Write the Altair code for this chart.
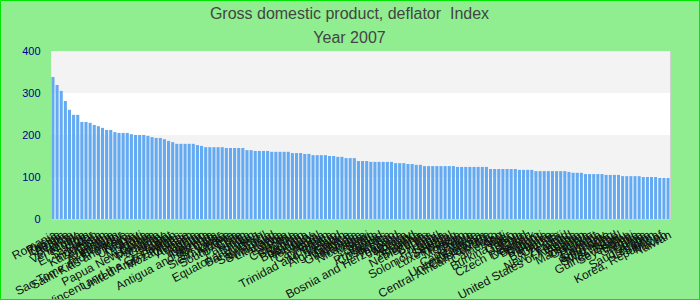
import altair as alt
import pandas as pd

countries = [
    "Romania", "Russia", "Zambia", "Ukraine", "Belarus", "Turkey", "Venezuela", "Nigeria",
    "Iran", "El Salvador", "Sudan", "Indonesia", "Kazakhstan", "Ghana", "Argentina", "Azerbaijan",
    "Ecuador", "Sao Tome and Principe", "Saint Kitts and Nevis", "Kenya", "Uruguay", "Haiti",
    "Moldova", "Serbia", "Papua New Guinea", "Mongolia", "Paraguay", "Georgia", "Egypt", "Yemen",
    "Saint Vincent and the Grenadines", "United Arab Emirates", "Mozambique", "Vietnam", "Armenia",
    "Algeria", "Lesotho", "Uganda", "Tanzania", "Antigua and Barbuda", "Qatar", "Sri Lanka",
    "Sierra Leone", "Albania", "South Africa", "Chile", "Pakistan", "India", "Bhutan",
    "Equatorial Guinea", "Bangladesh", "Brazil", "Saint Lucia", "Swaziland", "Lithuania", "Latvia",
    "Estonia", "Peru", "Colombia", "Slovakia", "Bahrain", "Botswana", "Hungary", "Honduras",
    "Nepal", "Cambodia", "Oman", "Dominica", "Trinidad and Tobago", "Iceland", "Afghanistan",
    "Greece", "Mauritius", "Guatemala", "Namibia", "Nicaragua", "Malawi", "Spain", "Croatia",
    "Ireland", "Philippines", "Costa Rica", "Mexico", "Thailand", "Bosnia and Herzegovina",
    "Jamaica", "Norway", "Poland", "Australia", "Slovenia", "Netherlands", "Cyprus", "Italy",
    "Portugal", "Malta", "Solomon Islands", "Senegal", "Luxembourg", "Tunisia", "Morocco",
    "Jordan", "Belize", "Cape Verde", "Malaysia", "United Kingdom", "Côte d'Ivoire",
    "Central African Republic", "Togo", "Cameroon", "Mali", "Niger", "Burkina Faso", "Gabon",
    "Benin", "Chad", "Czech Republic", "Denmark", "Belgium", "Djibouti", "Bulgaria", "France",
    "Barbados", "Canada", "Fiji", "New Zealand", "Finland", "United States of America", "Austria",
    "Sweden", "Macedonia", "Grenada", "Kuwait", "Panama", "Germany", "Singapore", "Hong Kong",
    "Switzerland", "Israel", "Guinea-Bissau", "Seychelles", "Brunei", "Gambia", "China",
    "Bolivia", "Saudi Arabia", "Lebanon", "Samoa", "Korea, Republic of", "Macao", "Taiwan",
]

values = [
    338, 319, 305, 281, 260, 248, 248, 231, 231, 229, 224, 221, 217, 212, 212, 207, 205, 205,
    205, 202, 200, 200, 200, 198, 195, 193, 193, 190, 186, 183, 179, 179, 179, 179, 179, 176,
    174, 171, 171, 171, 171, 171, 169, 169, 169, 169, 169, 164, 164, 162, 162, 162,
    162, 160, 160, 160, 160, 160, 157, 157, 157, 155, 155, 152, 152, 152, 152, 150, 150, 148,
    148, 145, 145, 145, 138, 138, 138, 136, 136, 136, 136, 136, 136, 133, 133, 133, 131, 131,
    129, 129, 126, 126, 126, 126, 126, 126, 126, 126, 124, 124, 124, 124,
    124, 124, 124, 124, 119, 119, 119, 119, 119, 119, 119, 117, 117, 117, 117, 114, 114, 114,
    114, 114, 114, 114, 114, 112, 110, 110, 110, 107, 107, 107, 107, 107, 105, 105, 105, 105,
    102, 102, 102, 102, 102, 100, 100, 100, 100, 98, 98, 98,
]

band_lo = [0, 100, 200, 300]
band_hi = [100, 200, 300, 400]
band_shade = ["a", "b", "a", "b"]

title_lines = ["Gross domestic product, deflator \u00a0Index", "Year 2007"]

df = pd.DataFrame({"country": countries, "value": values})
bands = pd.DataFrame({"lo": band_lo, "hi": band_hi, "shade": band_shade})

FONT = "Liberation Sans"

band_layer = alt.Chart(bands).mark_rect().encode(
    y=alt.Y("lo:Q", scale=alt.Scale(domain=[0, 400], nice=False),
            axis=alt.Axis(values=[0, 100, 200, 300, 400], title=None, ticks=False,
                          domain=False, grid=False, labelColor="#00008B",
                          labelFontSize=11, labelFont=FONT, labelPadding=11)),
    y2="hi:Q",
    color=alt.Color("shade:N", scale=alt.Scale(domain=["a", "b"], range=["#ffffff", "#f3f3f3"]),
                    legend=None),
)

bars = alt.Chart(df).mark_bar(color="#64aaf2").encode(
    x=alt.X("country:N", sort=None,
            scale=alt.Scale(paddingInner=0.25, paddingOuter=0.1),
            axis=alt.Axis(title=None, ticks=False, domain=False, labelAngle=332,
                          labelAlign="right", labelBaseline="top", labelPadding=10,
                          labelFontSize=12, labelFont=FONT, labelColor="#111111",
                          labelOverlap=False, labelLimit=0)),
    y=alt.Y("value:Q", scale=alt.Scale(domain=[0, 400], nice=False)),
)

border = alt.Chart(pd.DataFrame({"k": [0]})).mark_rect(
    fill=None, stroke="#00e600", strokeWidth=1
).encode(
    x=alt.value(-50.5), x2=alt.value(648.5), y=alt.value(-50.5), y2=alt.value(248.5)
)

chart = alt.layer(band_layer, bars, border).properties(
    width=619,
    height=168,
    padding={"left": 51, "top": 51, "right": 30, "bottom": 81},
    autosize=alt.AutoSizeParams(type="none"),
    background="#90EE90",
    title=alt.TitleParams(
        text=title_lines,
        font=FONT, fontSize=16, fontWeight="normal", color="#444444",
        lineHeight=24, anchor="middle", frame="group", dx=-11, offset=8, dy=54,
    ),
).configure_view(stroke="#d0d0d0", strokeWidth=1)

chart.save("out.html", embed_options={"renderer": "svg", "actions": False})
